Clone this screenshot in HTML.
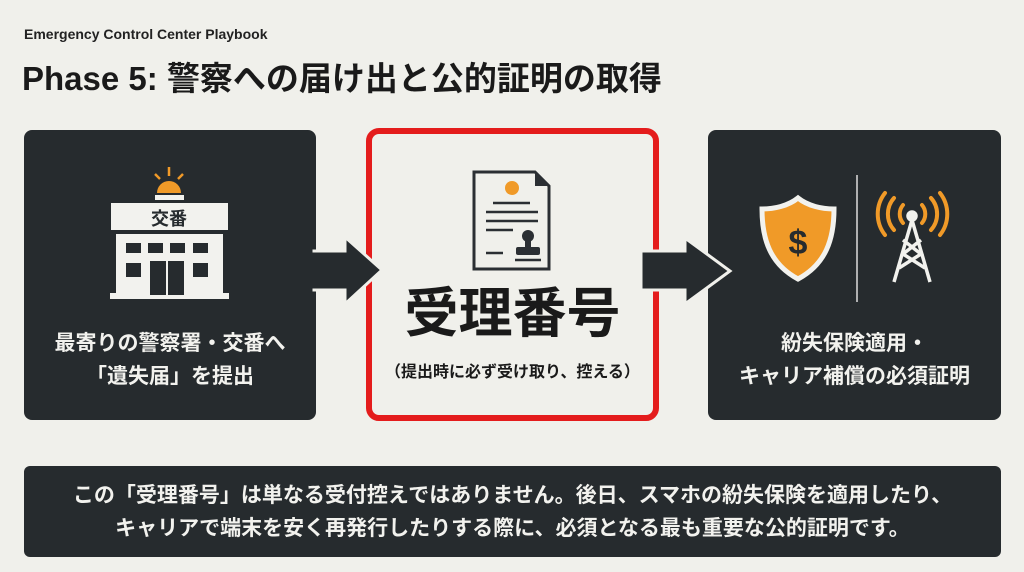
<!DOCTYPE html>
<html><head><meta charset="utf-8"><style>
*{margin:0;padding:0;box-sizing:border-box}
body{width:1024px;height:572px;background:#f0f0eb;position:relative;overflow:hidden;font-family:"Liberation Sans","Noto Sans CJK JP",sans-serif;font-weight:bold}
.abs{position:absolute}
.dark{background:#262b2e;border-radius:8px}
.t{color:#f2f2ee;text-align:center;font-size:21px;line-height:33px}
</style></head><body>
<div class="abs" style="left:24px;top:26px;font-size:14px;color:#222">Emergency Control Center Playbook</div>
<div class="abs" style="left:22px;top:52px;font-size:33px;color:#1a1a1a">Phase 5: 警察への届け出と公的証明の取得</div>

<div class="abs dark" style="left:24px;top:130px;width:292px;height:290px"></div>
<div class="abs dark" style="left:708px;top:130px;width:293px;height:290px"></div>

<svg class="abs" style="left:0;top:0" width="1024" height="572">
 <!-- police -->
 <g fill="#f2f2ee">
  <path d="M157,193 a12,12 0 0 1 24,0 z" fill="#f09a28"/>
  <rect x="155" y="195" width="29" height="5"/>
  <line x1="169" y1="167" x2="169" y2="176" stroke="#f09a28" stroke-width="2.5"/>
  <line x1="155" y1="174" x2="160" y2="179" stroke="#f09a28" stroke-width="2.5"/>
  <line x1="183" y1="174" x2="178" y2="179" stroke="#f09a28" stroke-width="2.5"/>
  <rect x="111" y="203" width="117" height="27"/>
  <rect x="116" y="234" width="107" height="62"/>
  <rect x="110" y="293" width="119" height="6"/>
 </g>
 <text x="169" y="225" text-anchor="middle" font-size="18" fill="#262b2e" font-weight="bold" font-family="Noto Sans CJK JP">交番</text>
 <g fill="#262b2e">
  <rect x="126" y="243" width="15" height="10"/><rect x="148" y="243" width="15" height="10"/><rect x="170" y="243" width="15" height="10"/><rect x="193" y="243" width="15" height="10"/>
  <rect x="126" y="263" width="15" height="14"/><rect x="193" y="263" width="15" height="14"/>
  <rect x="150" y="261" width="16" height="34"/><rect x="168" y="261" width="16" height="34"/>
 </g>
 <!-- red box -->
 <rect x="369" y="131" width="287" height="287" rx="10" fill="#f0f0eb" stroke="#e41c1c" stroke-width="6"/>
 <!-- arrows -->
 <polygon points="314,251 345,251 345,237 382,270 345,304 345,290 314,290" fill="#262b2e" stroke="#f0f0eb" stroke-width="3"/>
 <rect x="312" y="252.5" width="6" height="36" fill="#262b2e"/>
 <polygon points="641,251 685,251 685,238 730,271 685,304 685,290 641,290" fill="#262b2e" stroke="#f0f0eb" stroke-width="3"/>
 <!-- doc -->
 <path d="M474,172 h61 l14,14 v83 h-75 z" fill="none" stroke="#2b2f33" stroke-width="3"/>
 <path d="M535,172 v14 h14 z" fill="#2b2f33"/>
 <circle cx="512" cy="188" r="7" fill="#f09a28"/>
 <g stroke="#2b2f33" stroke-width="2.5">
  <line x1="493" y1="203" x2="530" y2="203"/><line x1="486" y1="212" x2="538" y2="212"/><line x1="486" y1="221" x2="538" y2="221"/><line x1="486" y1="230" x2="513" y2="230"/><line x1="486" y1="253" x2="503" y2="253"/>
  <line x1="515" y1="260" x2="541" y2="260"/>
 </g>
 <circle cx="528" cy="236" r="6" fill="#2b2f33"/>
 <rect x="525" y="238" width="6" height="10" fill="#2b2f33"/>
 <rect x="516" y="247" width="24" height="8" rx="2" fill="#2b2f33"/>
 <!-- shield -->
 <path d="M798,198 c10,8 24,11 36,11 c0,30 -8,55 -36,70 c-28,-15 -36,-40 -36,-70 c12,0 26,-3 36,-11z" fill="#f09a28" stroke="#f2f2ee" stroke-width="5"/>
 <text x="798" y="254" text-anchor="middle" font-size="34" fill="#262b2e" font-weight="bold" font-family="Liberation Sans">$</text>
 <line x1="857" y1="175" x2="857" y2="302" stroke="#ddd" stroke-width="1.5"/>
 <!-- tower -->
 <g stroke="#f09a28" stroke-width="4" fill="none" stroke-linecap="round">
  <path d="M903,205 a14,14 0 0 0 0,18"/><path d="M922,205 a14,14 0 0 1 0,18"/>
  <path d="M894,198 a24,24 0 0 0 0,32"/><path d="M931,198 a24,24 0 0 1 0,32"/>
  <path d="M885,193 a34,34 0 0 0 0,42"/><path d="M940,193 a34,34 0 0 1 0,42"/>
 </g>
 <g stroke="#f2f2ee" stroke-width="3.5" fill="none">
  <circle cx="912" cy="216" r="4" fill="#f2f2ee"/>
  <path d="M912,220 l-18,62 M912,220 l18,62 M903,240 l18,14 l-22,14 M921,240 l-18,14 l22,14"/>
 </g>
</svg>

<div class="abs t" style="left:24px;top:327px;width:292px">最寄りの警察署・交番へ<br>「遺失届」を提出</div>
<div class="abs" style="left:366px;top:282px;width:293px;text-align:center;font-size:54px;color:#1a1a1a;line-height:64px">受理番号</div>
<div class="abs" style="left:366px;top:358px;width:293px;text-align:center;font-size:16px;color:#1a1a1a">（提出時に必ず受け取り、控える）</div>
<div class="abs t" style="left:708px;top:327px;width:293px">紛失保険適用・<br>キャリア補償の必須証明</div>

<div class="abs dark" style="left:24px;top:466px;width:977px;height:91px;border-radius:6px"></div>
<div class="abs t" style="left:24px;top:479px;width:977px;font-size:21px;line-height:33px">この「受理番号」は単なる受付控えではありません。後日、スマホの紛失保険を適用したり、<br>キャリアで端末を安く再発行したりする際に、必須となる最も重要な公的証明です。</div>
</body></html>
